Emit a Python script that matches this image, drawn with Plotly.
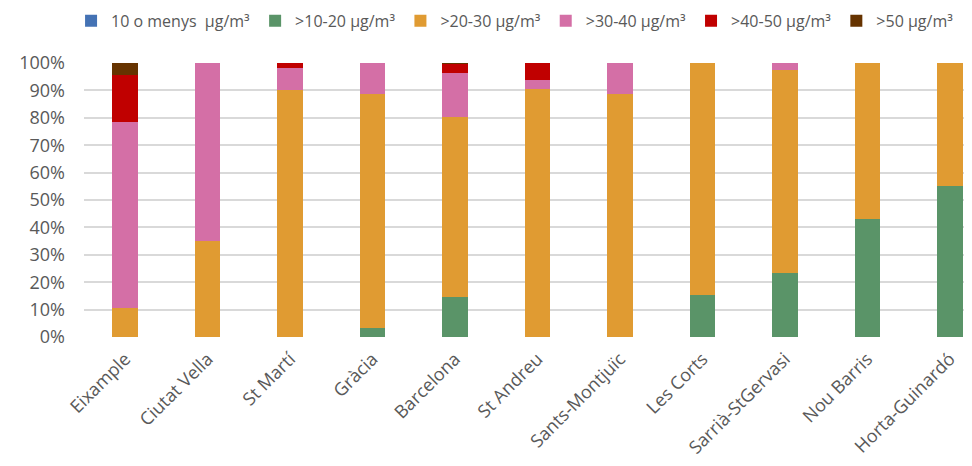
import plotly.graph_objects as go

# districts, ordered as in the chart
districts = ["Eixample", "Ciutat Vella", "St Martí", "Gràcia", "Barcelona", "St Andreu",
             "Sants-Montjuïc", "Les Corts", "Sarrià-StGervasi", "Nou Barris", "Horta-Guinardó"]

# share of population per NO2 band (fraction)
band_le10 = [0, 0, 0, 0, 0, 0, 0, 0, 0, 0, 0]
band_10_20 = [0, 0, 0, 0.033, 0.146, 0, 0, 0.153, 0.235, 0.430, 0.551]
band_20_30 = [0.106, 0.351, 0.903, 0.855, 0.656, 0.904, 0.886, 0.847, 0.741, 0.570, 0.449]
band_30_40 = [0.678, 0.649, 0.079, 0.112, 0.162, 0.034, 0.114, 0, 0.024, 0, 0]
band_40_50 = [0.174, 0, 0.018, 0, 0.034, 0.062, 0, 0, 0, 0, 0]
band_gt50 = [0.042, 0, 0, 0, 0.002, 0, 0, 0, 0, 0, 0]

band_names = ["10 o menys  μg/m³", ">10-20 μg/m³", ">20-30 μg/m³",
              ">30-40 μg/m³", ">40-50 μg/m³", ">50 μg/m³"]
band_values = [band_le10, band_10_20, band_20_30, band_30_40, band_40_50, band_gt50]
band_colors = ["#4472b4", "#5a9468", "#e09b32", "#d46fa6", "#c00000", "#663300"]

grey = "#595959"

fig = go.Figure()
for name, vals, col in zip(band_names, band_values, band_colors):
    fig.add_trace(go.Bar(
        x=districts, y=vals, name=name,
        marker=dict(color=col, line=dict(width=0)),
        width=0.31,
    ))

# page body has an 8px margin, so the figure is a bit smaller than the window
fig.update_layout(
    barmode="stack",
    width=964, height=458,
    margin=dict(l=76, r=0, t=55, b=129, autoexpand=False),
    paper_bgcolor="white",
    plot_bgcolor="white",
    font=dict(family="Open Sans", color=grey, size=16),
    showlegend=True,
    legend=dict(
        orientation="h",
        traceorder="normal",
        xref="container", yref="container",
        x=0.526, xanchor="center",
        y=0.972, yanchor="middle",
        font=dict(size=16, color=grey),
        itemclick=False,
        tracegroupgap=0,
    ),
)
fig.update_xaxes(
    range=[-0.5, 10.27],
    tickangle=-45,
    tickfont=dict(size=18, color=grey),
    showgrid=False,
    showline=False,
    zeroline=False,
    automargin=False,
    ticklabelstandoff=7,
)
fig.update_yaxes(
    range=[0, 1],
    tickvals=[i / 10 for i in range(11)],
    tickformat=".0%",
    tickfont=dict(size=18, color=grey),
    gridcolor="#d9d9d9",
    gridwidth=1.5,
    zeroline=False,
    showline=False,
    ticklabelstandoff=18,
    automargin=False,
)

fig.write_html("out.html")
